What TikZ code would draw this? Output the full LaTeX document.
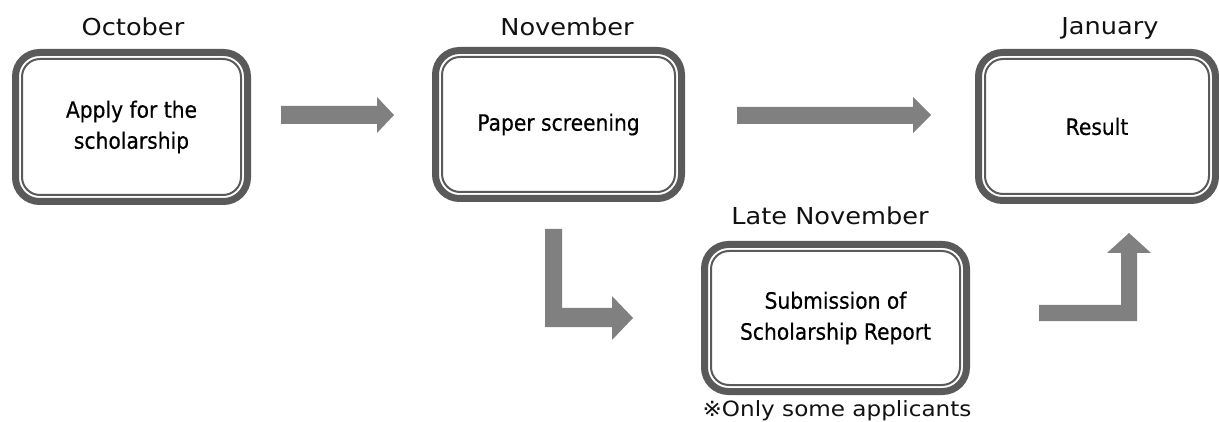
\documentclass[tikz,border=0pt]{standalone}
\usepackage{fontspec}
\newfontfamily\boxfont[FakeStretch=0.9,FakeBold=0.4]{DejaVu Sans}
\newfontfamily\monthfont[FakeStretch=1.1]{DejaVu Sans}
\definecolor{frame}{HTML}{5A5A5A}
\definecolor{arrowgray}{HTML}{808080}
\definecolor{txt}{HTML}{111111}
\tikzset{
  stage/.style={draw=frame, line width=2pt, rounded corners=18pt, outer sep=0pt,
    fill=white, align=center, text=black, font=\boxfont\fontsize{22.5}{31}\selectfont},
  outerframe/.style={draw=frame, line width=7pt, rounded corners=24pt},
  month/.style={text=txt, font=\monthfont\fontsize{23.3}{28}\selectfont, inner sep=0pt},
  blockarrow/.style={fill=arrowgray, draw=none}
}
\begin{document}
\begin{tikzpicture}[x=1pt,y=-1pt]
\useasboundingbox (0,0) rectangle (1219,422);
% stage boxes (inner thin frame = node)
\node[stage, minimum width=219pt, minimum height=136pt] (apply) at (131.5,127) {Apply for the\\scholarship};
\node[stage, minimum width=233pt, minimum height=135pt] (paper) at (558.5,124.5) {Paper screening};
\node[stage, minimum width=224pt, minimum height=135pt] (result) at (1097,126.5) {Result};
\node[stage, minimum width=249pt, minimum height=134pt] (report) at (835.5,318) {Submission of\\Scholarship Report};
% thick outer frames
\foreach \n in {apply,paper,result,report}{
  \draw[outerframe] ([xshift=-6.5pt,yshift=6.5pt]\n.north west) rectangle ([xshift=6.5pt,yshift=-6.5pt]\n.south east);
}
% month labels
\node[month] (oct) at (133,27) {October};
\node[month] (nov) at (567,27) {November};
\node[month] (jan) at (1110,28) {January};
\node[month] (late) at (830,216) {Late November};
\node[month, font=\monthfont\fontsize{21}{26}\selectfont] (note) at (837,411) {※Only some applicants};
% block arrows
\fill[blockarrow] (281,106) -- (377,106) -- (377,97) -- (394,115) -- (377,133) -- (377,124) -- (281,124) -- cycle;
\fill[blockarrow] (737,107) -- (913,107) -- (913,97) -- (931,115) -- (913,133) -- (913,124) -- (737,124) -- cycle;
\fill[blockarrow] (545,229) -- (562,229) -- (562,308) -- (612,308) -- (612,296) -- (633,318) -- (612,340) -- (612,327) -- (545,327) -- cycle;
\fill[blockarrow] (1039,305) -- (1121,305) -- (1121,253) -- (1107,253) -- (1129,233) -- (1151,253) -- (1137,253) -- (1137,321) -- (1039,321) -- cycle;
\end{tikzpicture}
\end{document}
